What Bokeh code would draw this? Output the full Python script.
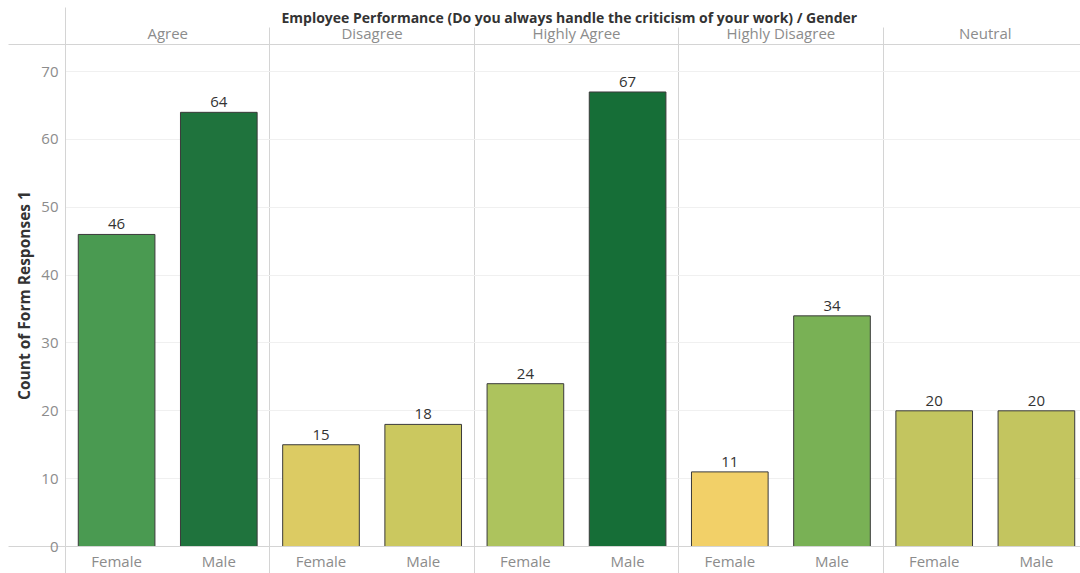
from bokeh.plotting import figure
from bokeh.models import LinearAxis, FixedTicker, Range1d, ColumnDataSource
from bokeh.embed import file_html
from bokeh.resources import INLINE

# ---------------- data ----------------
panels = ["Agree", "Disagree", "Highly Agree", "Highly Disagree", "Neutral"]
genders = ["Female", "Male"]
female_counts = [46, 15, 24, 11, 20]
male_counts = [64, 18, 67, 34, 20]
female_colors = ["#4a9a51", "#dccb63", "#adc35d", "#f2d068", "#c3c55f"]
male_colors = ["#1f733d", "#cbc85f", "#166e37", "#79b155", "#c3c55f"]
y_ticks = [0, 10, 20, 30, 40, 50, 60, 70]
title_text = "Employee Performance (Do you always handle the criticism of your work)  /  Gender"
y_label = "Count of Form Responses 1"

FONT = "Open Sans"
GRAY_TXT = "#8c8c8c"
DARK_TXT = "#333333"
LINE_C = "#d4d4d4"

# bar table: slot positions come from the category index
xs, tops, cols, labs = [], [], [], []
for i, panel in enumerate(panels):
    for j, g in enumerate(genders):
        xs.append(2 * i + j + 0.5)
        v = female_counts[i] if g == "Female" else male_counts[i]
        tops.append(v)
        cols.append(female_colors[i] if g == "Female" else male_colors[i])
        labs.append(str(v))
src = ColumnDataSource(dict(x=xs, top=tops, color=cols, label=labs))

W, H = 1080, 573
FL, FT, FB = 65, 44, 27
Y_TOP = 74
HDR_TICK = 17
SLOT_PX = 102.2
x_end = (W - FL) / SLOT_PX
panel_edges = [2 * i for i in range(len(panels) + 1)]

p = figure(width=W, height=H, x_range=Range1d(0, x_end), y_range=Range1d(0, Y_TOP),
           output_backend="svg", toolbar_location=None,
           x_axis_location=None, y_axis_location=None,
           min_border_left=FL, min_border_right=0, min_border_top=FT,
           min_border_bottom=FB, outline_line_color=None,
           background_fill_color="white", border_fill_color="white")

# grids: panel separators and light value grid
p.xgrid.ticker = FixedTicker(ticks=panel_edges[1:-1])
p.xgrid.grid_line_color = LINE_C
p.ygrid.ticker = FixedTicker(ticks=y_ticks[1:])
p.ygrid.grid_line_color = "#f0f0f0"

# y axis (minor ticks extend the header line and the base line to the left)
Y_EXT = FL - 8
ya = LinearAxis(ticker=FixedTicker(ticks=y_ticks, minor_ticks=[0, Y_TOP]),
                axis_line_color=LINE_C, major_tick_line_color=None,
                minor_tick_line_color=LINE_C, minor_tick_out=Y_EXT, minor_tick_in=0,
                major_label_standoff=7 - Y_EXT,
                major_label_text_font=FONT, major_label_text_font_size="15px",
                major_label_text_color=GRAY_TXT,
                axis_label=y_label, axis_label_text_font=FONT,
                axis_label_text_font_style="bold", axis_label_text_font_size="15.5px",
                axis_label_text_color=DARK_TXT, axis_label_standoff=3)
p.add_layout(ya, "left")

# bottom gender axis (minor ticks continue the separators down)
g_ticks = [2 * i + j + 0.5 for i in range(len(panels)) for j in range(len(genders))]
g_over = {t: genders[k % 2] for k, t in enumerate(g_ticks)}
xa = LinearAxis(ticker=FixedTicker(ticks=g_ticks, minor_ticks=panel_edges),
                major_label_overrides=g_over,
                axis_line_color=LINE_C, major_tick_line_color=None,
                minor_tick_line_color=LINE_C, minor_tick_out=FB, minor_tick_in=0,
                major_label_standoff=4 - FB,
                major_label_text_font=FONT, major_label_text_font_size="15px",
                major_label_text_color=GRAY_TXT)
p.add_layout(xa, "below")

# top panel-header axis
h_ticks = [2 * i + 1 for i in range(len(panels))]
h_over = {t: panels[k] for k, t in enumerate(h_ticks)}
ha = LinearAxis(ticker=FixedTicker(ticks=h_ticks, minor_ticks=panel_edges),
                major_label_overrides=h_over,
                axis_line_color=LINE_C, major_tick_line_color=None,
                minor_tick_line_color=LINE_C, minor_tick_out=HDR_TICK, minor_tick_in=0,
                major_label_standoff=2 - HDR_TICK,
                major_label_text_font=FONT, major_label_text_font_size="15px",
                major_label_text_color=GRAY_TXT)
p.add_layout(ha, "above")

# title line (axis label) with the left frame line continuing to the top
ta = LinearAxis(ticker=FixedTicker(ticks=[], minor_ticks=[0]),
                axis_line_color=None, major_tick_line_color=None,
                minor_tick_line_color=LINE_C, minor_tick_out=12, minor_tick_in=30,
                major_label_standoff=0,
                axis_label=title_text, axis_label_standoff=-19,
                axis_label_text_line_height=1.0,
                axis_label_text_font=FONT, axis_label_text_font_style="bold",
                axis_label_text_font_size="14px", axis_label_text_color=DARK_TXT)
p.add_layout(ta, "above")

# bars and value labels
p.vbar(x="x", top="top", width=0.75, bottom=0, source=src, fill_color="color",
       line_color="#3a3a3a", line_width=1)
p.text(x="x", y="top", text="label", source=src, text_align="center",
       text_baseline="bottom", y_offset=-5, text_font_size="15px",
       text_color=DARK_TXT, text_font={"value": FONT})

open("out.html", "w").write(file_html(p, INLINE))
